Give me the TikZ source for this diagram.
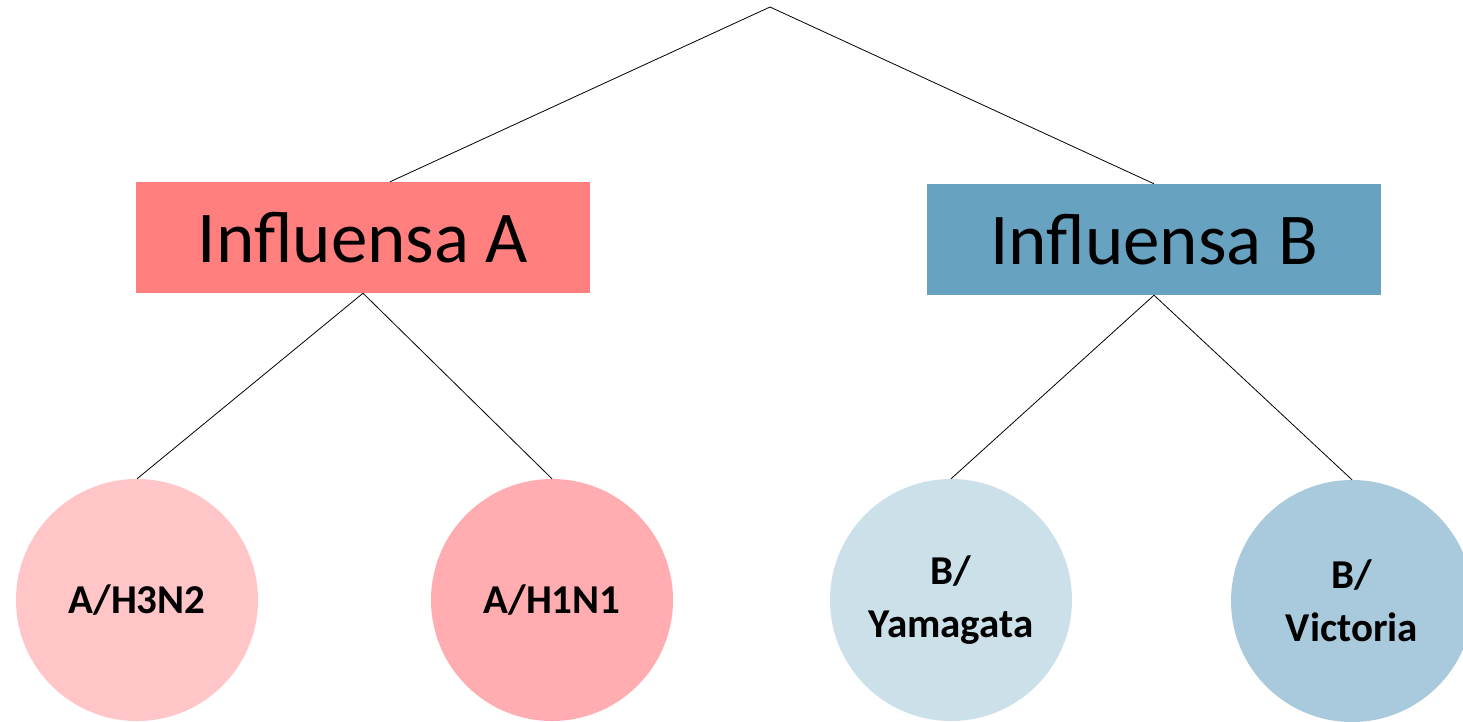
\documentclass[tikz,border=0pt]{standalone}
\usepackage{fontspec}
\setmainfont{Carlito}
\definecolor{fluA}{RGB}{255,127,127}
\definecolor{fluB}{RGB}{103,163,193}
\definecolor{h3n2}{RGB}{255,197,199}
\definecolor{h1n1}{RGB}{255,173,176}
\definecolor{yam}{RGB}{204,224,233}
\definecolor{vic}{RGB}{169,201,220}
\tikzstyle{group}=[rectangle,minimum width=454pt,minimum height=111pt,inner sep=0pt,font=\fontsize{73}{88}\selectfont]
\tikzstyle{strain}=[circle,minimum size=242pt,inner sep=0pt,align=center,font=\fontsize{41}{53}\selectfont\bfseries]

\begin{document}
\begin{tikzpicture}[x=1pt,y=-1pt]
\useasboundingbox (0,0) rectangle (1463,721);
\coordinate (top) at (770,7);
\node[group,fill=fluA] (A) at (363,237.5) {Influensa A};
\node[group,fill=fluB] (B) at (1154,239.5) {Influensa B};
\node[strain,fill=h3n2] (A1) at (137,600) {A/H3N2};
\node[strain,fill=h1n1] (A2) at (552,600) {A/H1N1};
\node[strain,fill=yam]  (B1) at (951,600) {B/\\Yamagata};
\node[strain,fill=vic]  (B2) at (1352,601) {B/\\Victoria};

\draw[line width=0.8pt] (top) -- ([xshift=27]A.north);
\draw[line width=0.8pt] (top) -- (B.north);
\draw[line width=0.8pt] (A.south) -- (A1.north);
\draw[line width=0.8pt] (A.south) -- (A2.north);
\draw[line width=0.8pt] (B.south) -- (B1.north);
\draw[line width=0.8pt] (B.south) -- (B2.north);

\end{tikzpicture}
\end{document}
